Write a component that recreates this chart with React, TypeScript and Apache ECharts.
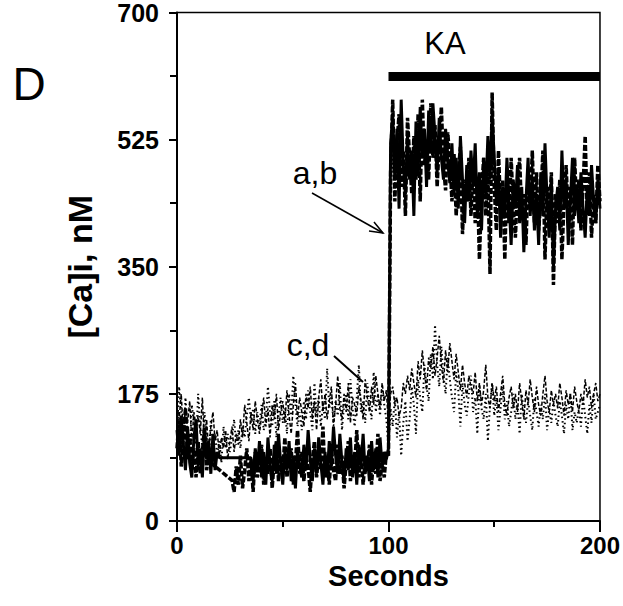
import React, { useEffect, useRef } from "react";
import * as echarts from "echarts";

// [Ca]i (nM) sampled every second, 0..200 s. null = gap in recording.
const traceA: (number | null)[] = [
  125, 90, 145, 105, 70, 130, 80, 60, 115, 140,
  75, 100, 60, 125, 85, 110, 65, 120, 70, 95,
  87, null, null, null, null, null, null, null, null, null,
  null, null, null, null, null, 87, 55, 100, 70, 110,
  60, 95, 50, 115, 75, 55, 105, 65, 120, 80,
  50, 95, 70, 110, 55, 90, 45, 100, 75, 60,
  105, 70, 125, 85, 55, 100, 65, 115, 80, 50,
  95, 60, 110, 75, 130, 90, 65, 120, 80, 55,
  100, 70, 115, 60, 95, 50, 105, 75, 120, 65,
  90, 55, 110, 70, 100, 60, 115, 75, 95, 85,
  100, 520, 560, 470, 540, 430, 580, 490, 450, 530,
  470, 510, 420, 550, 480, 570, 500, 540, 460, 565,
  510, 575, 530, 480, 555, 500, 470, 540, 495, 465,
  520, 450, 500, 430, 530, 470, 410, 490, 440, 510,
  460, 520, 420, 480, 400, 500, 450, 530, 470, 560,
  500, 440, 480, 390, 460, 420, 500, 440, 380, 470,
  430, 490, 410, 460, 370, 440, 500, 420, 470, 400,
  450, 380, 480, 420, 520, 440, 390, 470, 350, 430,
  460, 400, 510, 430, 470, 380, 440, 500, 420, 460,
  410, 480, 430, 390, 460, 420, 490, 440, 410, 470,
  430,
];

const traceB: (number | null)[] = [
  100, 140, 75, 115, 155, 85, 120, 70, 100, 60,
  110, 65, 95, 130, 70, 90, 80, null, null, null,
  null, null, null, null, null, null, 56, 40, 75, 50,
  90, 45, 70, 100, 55, 85, 40, 95, 60, 75,
  105, 50, 80, 65, 100, 45, 85, 110, 55, 90,
  70, 115, 60, 85, 100, 50, 80, 125, 65, 95,
  55, 90, 75, 40, 85, 110, 60, 95, 70, 130,
  60, 85, 50, 100, 70, 55, 105, 65, 90, 45,
  80, 110, 55, 90, 75, 125, 60, 95, 50, 85,
  70, 105, 50, 90, 65, 120, 55, 80, 60, 95,
  90, 480, 580, 440, 520, 560, 460, 510, 420, 555,
  500, 450, 530, 470, 560, 440, 580, 490, 525, 470,
  575, 500, 545, 460, 520, 570, 490, 455, 535, 500,
  440, 505, 420, 480, 515, 395, 470, 440, 500, 420,
  490, 410, 470, 360, 450, 500, 420, 480, 340, 590,
  460, 400, 510, 430, 470, 360, 480, 410, 500, 430,
  390, 460, 500, 420, 450, 380, 470, 430, 510, 410,
  480, 400, 440, 510, 360, 460, 420, 480, 325, 450,
  410, 470, 360, 440, 490, 415, 460, 380, 500, 430,
  470, 400, 460, 530, 420, 480, 390, 450, 410, 490,
  440,
];

const traceC: number[] = [
  160, 140, 175, 120, 155, 135, 165, 110, 150, 130,
  145, 120, 170, 105, 140, 95, 130, 150, 110, 125,
  90, 115, 100, 125, 85, 110, 130, 95, 120, 105,
  140, 115, 160, 135, 110, 150, 125, 165, 140, 120,
  145, 170, 130, 155, 115, 160, 140, 175, 125, 150,
  165, 135, 180, 145, 120, 160, 190, 140, 170, 150,
  130, 175, 155, 185, 140, 165, 125, 170, 195, 150,
  175, 140, 165, 185, 130, 160, 200, 155, 140, 175,
  150, 190, 135, 170, 160, 145, 185, 165, 140, 195,
  170, 150, 185, 160, 200, 175, 155, 190, 165, 180,
  130, 175, 185, 160, 170, 145, 155, 190, 175, 200,
  180, 210, 190, 170, 220, 195, 235, 205, 180, 225,
  210, 240, 200, 225, 255, 215, 190, 235, 205, 245,
  220, 195, 230, 205, 180, 215, 190, 170, 200, 185,
  175, 205, 165, 190, 160, 180, 215, 170, 155, 190,
  165, 185, 150, 175, 200, 160, 145, 170, 185, 155,
  175, 150, 190, 165, 140, 180, 160, 195, 170, 150,
  185, 160, 145, 175, 200, 165, 150, 180, 160, 175,
  155, 190, 170, 145, 180, 160, 175, 150, 185, 165,
  150, 175, 160, 195, 170, 185, 155, 175, 190, 165,
  175,
];

const traceD: number[] = [
  120, 185, 150, 100, 170, 125, 90, 160, 135, 105,
  175, 130, 100, 150, 115, 85, 140, 105, 120, 90,
  110, 80, 130, 100, 120, 95, 115, 140, 105, 125,
  100, 130, 115, 145, 170, 135, 155, 120, 150, 130,
  160, 125, 140, 185, 150, 130, 165, 115, 145, 170,
  135, 155, 120, 175, 145, 200, 160, 130, 150, 125,
  165, 140, 180, 150, 125, 190, 145, 170, 130, 160,
  140, 210, 155, 175, 135, 165, 145, 190, 125, 160,
  175, 140, 195, 155, 130, 170, 215, 150, 165, 135,
  190, 160, 140, 205, 150, 175, 145, 185, 160, 140,
  100, 155, 130, 170, 115, 150, 90, 135, 165, 110,
  140, 185, 160, 120, 195, 170, 150, 215, 185, 165,
  230, 195, 270, 215, 185, 240, 200, 175, 225, 195,
  170, 150, 205, 180, 130, 190, 160, 145, 175, 200,
  150, 170, 120, 185, 155, 140, 175, 110, 160, 190,
  145, 170, 125, 155, 185, 140, 165, 130, 150, 175,
  140, 160, 120, 175, 150, 135, 165, 145, 125, 170,
  150, 130, 160, 140, 175, 125, 155, 135, 165, 145,
  130, 165, 145, 120, 160, 140, 175, 125, 150, 135,
  155, 130, 170, 145, 120, 160, 135, 175, 140, 150,
  160,
];

const yTicks = [0, 175, 350, 525, 700];
const xTicks = [0, 100, 200];
const kaPeriod = [100, 200];
const kaLevel = 612;

const FONT = "'Liberation Sans', Arial, sans-serif";

const toPairs = (arr: (number | null)[]) => arr.map((v, i) => [i, v]);

const label = (text: string, x: number, y: number, size: number) => ({
  type: "text",
  x,
  y,
  style: {
    text,
    fontSize: size,
    fontFamily: FONT,
    fill: "#000",
    align: "center",
    verticalAlign: "middle",
  },
});

export default function App() {
  const ref = useRef<HTMLDivElement>(null);
  useEffect(() => {
    if (!ref.current) return;
    const chart = echarts.init(ref.current, undefined, { renderer: "svg" });
    const axisCommon = {
      axisLine: { show: true, lineStyle: { color: "#000", width: 2 } },
      splitLine: { show: false },
    };
    chart.setOption({
      animation: false,
      backgroundColor: "#fff",
      grid: {
        left: 177,
        right: 23,
        top: 8,
        bottom: 85,
        show: true,
        borderColor: "#000",
        borderWidth: 1.5,
        backgroundColor: "transparent",
      },
      xAxis: {
        type: "value",
        min: xTicks[0],
        max: xTicks[xTicks.length - 1],
        interval: 100,
        ...axisCommon,
        axisTick: { show: true, length: 11, lineStyle: { color: "#000", width: 2 } },
        minorTick: { show: true, splitNumber: 2, length: 6, lineStyle: { color: "#000", width: 2 } },
        axisLabel: { fontFamily: FONT, fontSize: 24, fontWeight: "bold", color: "#000", margin: 12 },
        name: "Seconds",
        nameLocation: "middle",
        nameGap: 40,
        nameMoveOverlap: false,
        nameTextStyle: { fontFamily: FONT, fontSize: 29, fontWeight: "bold", color: "#000" },
      },
      yAxis: {
        type: "value",
        min: yTicks[0],
        max: yTicks[yTicks.length - 1],
        interval: 175,
        ...axisCommon,
        axisTick: { show: true, length: 8, lineStyle: { color: "#000", width: 2 } },
        minorTick: { show: true, splitNumber: 2, length: 7, lineStyle: { color: "#000", width: 2 } },
        axisLabel: { fontFamily: FONT, fontSize: 25, fontWeight: "bold", color: "#000", margin: 18 },
        name: "[Ca]i, nM",
        nameLocation: "middle",
        nameGap: 80,
        nameMoveOverlap: false,
        nameTextStyle: { fontFamily: FONT, fontSize: 34, fontWeight: "bold", color: "#000" },
      },
      series: [
        {
          name: "c",
          type: "line",
          data: toPairs(traceC),
          showSymbol: false,
          lineStyle: { color: "#000", width: 1.5, type: [4, 2] },
        },
        {
          name: "d",
          type: "line",
          data: toPairs(traceD),
          showSymbol: false,
          lineStyle: { color: "#000", width: 2, type: [1.5, 3] },
        },
        {
          name: "a",
          type: "line",
          data: toPairs(traceA),
          showSymbol: false,
          connectNulls: true,
          lineStyle: { color: "#000", width: 3 },
        },
        {
          name: "b",
          type: "line",
          data: toPairs(traceB),
          showSymbol: false,
          connectNulls: true,
          lineStyle: { color: "#000", width: 3.5, type: [6, 2] },
        },
        {
          name: "KA",
          type: "line",
          data: [
            [kaPeriod[0], kaLevel],
            [kaPeriod[1], kaLevel],
          ],
          showSymbol: false,
          lineStyle: { color: "#000", width: 9, cap: "butt" },
        },
      ],
      graphic: [
        label("D", 29, 84, 46),
        label("KA", 445, 43, 31),
        label("a,b", 315, 173, 32),
        { type: "line", shape: { x1: 312, y1: 193, x2: 383, y2: 233 }, style: { stroke: "#000", lineWidth: 1.5 } },
        { type: "polyline", shape: { points: [[374, 222], [383, 233], [369, 231]] }, style: { stroke: "#000", lineWidth: 1.5, fill: null } },
        label("c,d", 308, 345, 32),
        { type: "line", shape: { x1: 334, y1: 356, x2: 363, y2: 382 }, style: { stroke: "#000", lineWidth: 2 } },
      ],
    });
    return () => chart.dispose();
  }, []);
  return (
    <div
      ref={ref}
      style={{ position: "fixed", left: 0, top: 0, width: 623, height: 606, background: "#fff" }}
    />
  );
}
